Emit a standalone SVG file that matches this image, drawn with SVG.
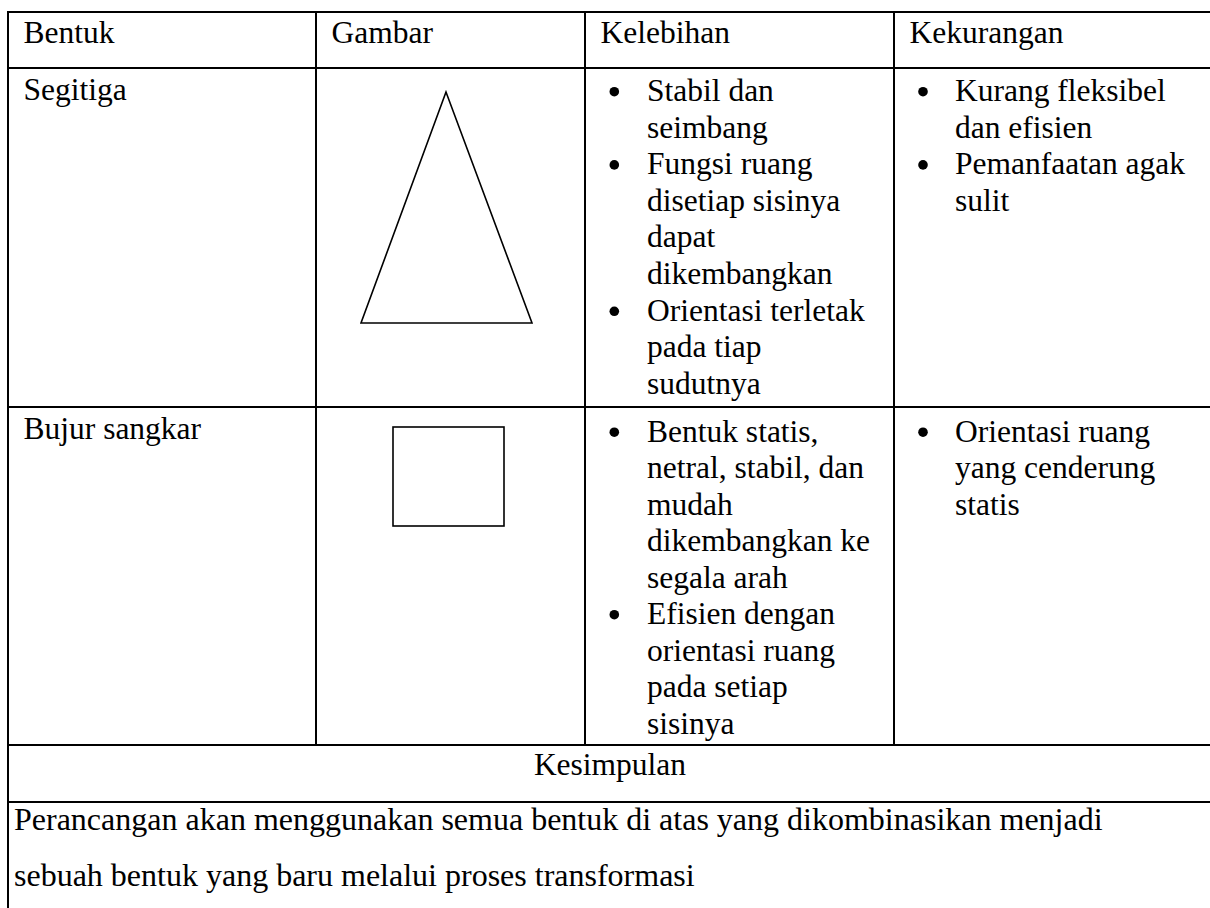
<svg xmlns="http://www.w3.org/2000/svg" width="1210" height="908" viewBox="0 0 1210 908">
<style>
  .t { font-family: "Liberation Serif", "Times New Roman", "DejaVu Serif", serif; font-size: 31.5px; fill: #000; }
  .p { font-size: 32px; }
  .c { text-anchor: middle; }
  .dot { fill: #000; }
  .grid line { stroke: #000; stroke-width: 2; }
  .shape { fill: none; stroke: #000; stroke-width: 1.6; }
</style>
<rect x="0" y="0" width="1210" height="908" fill="#fff"/>

<g id="connectors" class="grid">
  <line x1="7" y1="12" x2="1210" y2="12"/>
  <line x1="8" y1="11" x2="8" y2="908"/>
  <line x1="8" y1="68" x2="1210" y2="68"/>
  <line x1="8" y1="407" x2="1210" y2="407"/>
  <line x1="8" y1="745" x2="1210" y2="745"/>
  <line x1="8" y1="802" x2="1210" y2="802"/>
  <line x1="316" y1="12" x2="316" y2="745"/>
  <line x1="585" y1="12" x2="585" y2="745"/>
  <line x1="894" y1="12" x2="894" y2="745"/>
</g>

<g id="header" font-family="Liberation Serif, serif">
  <text class="t" x="23.5" y="42.7">Bentuk</text>
  <text class="t" x="331.5" y="42.7">Gambar</text>
  <text class="t" x="600.5" y="42.7">Kelebihan</text>
  <text class="t" x="909.5" y="42.7">Kekurangan</text>
</g>

<g id="row-segitiga" font-family="Liberation Serif, serif">
  <text class="t" x="23.5" y="100">Segitiga</text>
  <polygon class="shape" points="446,92 361,323 532,323"/>
  <g id="segitiga-kelebihan">
    <circle class="dot" cx="614.3" cy="91.7" r="4.8"/>
    <circle class="dot" cx="614.3" cy="164.9" r="4.8"/>
    <circle class="dot" cx="614.3" cy="311.3" r="4.8"/>
    <text class="t" x="647" y="101">Stabil dan</text>
    <text class="t" x="647" y="137.6">seimbang</text>
    <text class="t" x="647" y="174.2">Fungsi ruang</text>
    <text class="t" x="647" y="210.8">disetiap sisinya</text>
    <text class="t" x="647" y="247.4">dapat</text>
    <text class="t" x="647" y="284">dikembangkan</text>
    <text class="t" x="647" y="320.6">Orientasi terletak</text>
    <text class="t" x="647" y="357.2">pada tiap</text>
    <text class="t" x="647" y="393.8">sudutnya</text>
  </g>
  <g id="segitiga-kekurangan">
    <circle class="dot" cx="923" cy="91.7" r="4.8"/>
    <circle class="dot" cx="923" cy="164.9" r="4.8"/>
    <text class="t" x="955" y="101">Kurang fleksibel</text>
    <text class="t" x="955" y="137.6">dan efisien</text>
    <text class="t" x="955" y="174.2">Pemanfaatan agak</text>
    <text class="t" x="955" y="210.8">sulit</text>
  </g>
</g>

<g id="row-bujur-sangkar" font-family="Liberation Serif, serif">
  <text class="t" x="23.5" y="438.5">Bujur sangkar</text>
  <rect class="shape" x="393" y="427" width="111" height="99"/>
  <g id="bujur-kelebihan">
    <circle class="dot" cx="614.3" cy="432.2" r="4.8"/>
    <circle class="dot" cx="614.3" cy="614.7" r="4.8"/>
    <text class="t" x="647" y="441.5">Bentuk statis,</text>
    <text class="t" x="647" y="478">netral, stabil, dan</text>
    <text class="t" x="647" y="514.5">mudah</text>
    <text class="t" x="647" y="551">dikembangkan ke</text>
    <text class="t" x="647" y="587.5">segala arah</text>
    <text class="t" x="647" y="624">Efisien dengan</text>
    <text class="t" x="647" y="660.5">orientasi ruang</text>
    <text class="t" x="647" y="697">pada setiap</text>
    <text class="t" x="647" y="733.5">sisinya</text>
  </g>
  <g id="bujur-kekurangan">
    <circle class="dot" cx="923" cy="432.2" r="4.8"/>
    <text class="t" x="955" y="441.5">Orientasi ruang</text>
    <text class="t" x="955" y="478">yang cenderung</text>
    <text class="t" x="955" y="514.5">statis</text>
  </g>
</g>

<g id="kesimpulan" font-family="Liberation Serif, serif">
  <text class="t c" x="610" y="775">Kesimpulan</text>
  <text class="t p" x="14" y="830">Perancangan akan menggunakan semua bentuk di atas yang dikombinasikan menjadi</text>
  <text class="t p" x="14" y="886">sebuah bentuk yang baru melalui proses transformasi</text>
</g>
</svg>
